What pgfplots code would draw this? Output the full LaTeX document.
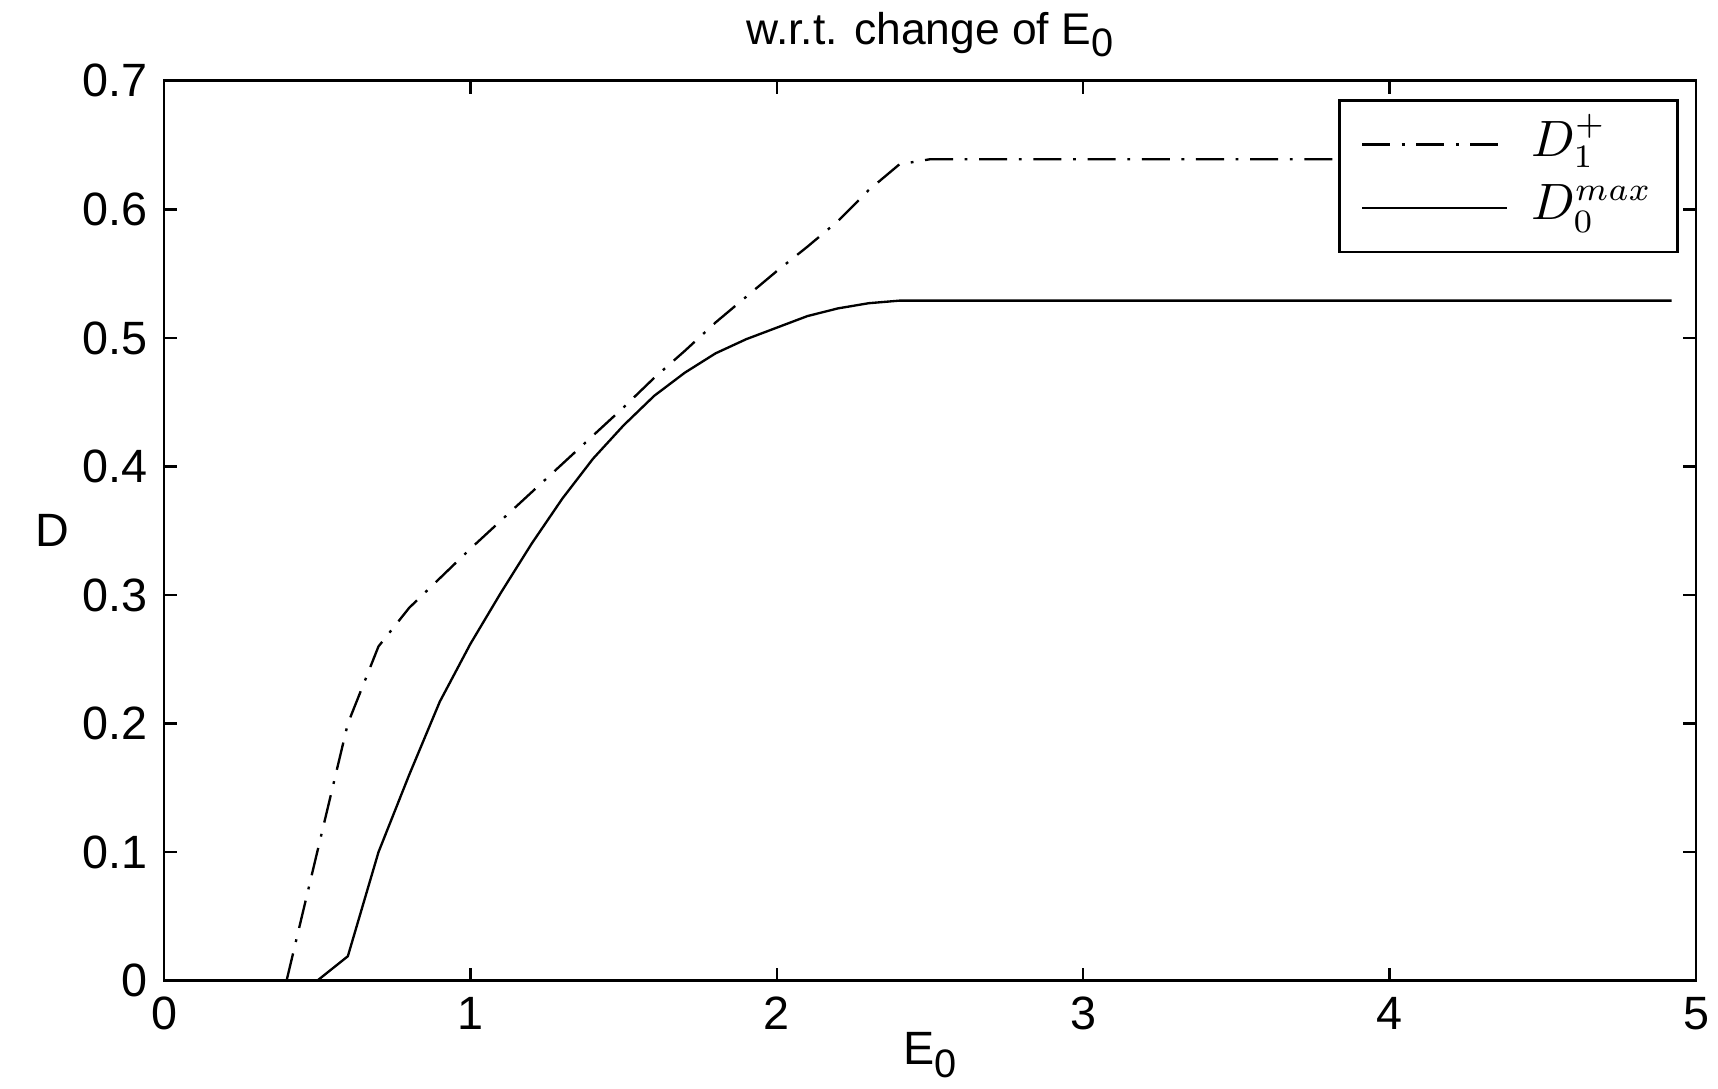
\documentclass[border=0pt]{standalone}
\usepackage{pgfplots}
\usepackage{fontspec}
\setmainfont{Liberation Sans}
\pgfplotsset{compat=1.18}
\newcommand{\sub}[1]{\raisebox{-0.55ex}{\fontsize{8.5}{9}\selectfont #1}}

\begin{document}
\begin{tikzpicture}
\fontsize{10}{12}\selectfont
\begin{axis}[
  scale only axis,
  width=327.9pt, height=192.6pt,
  xmin=0, xmax=5, ymin=0, ymax=0.7,
  xtick={0,1,2,3,4,5},
  ytick={0,0.1,0.2,0.3,0.4,0.5,0.6,0.7},
  yticklabel style={/pgf/number format/fixed,/pgf/number format/precision=1},
  /pgf/number format/assume math mode=true,
  tick align=inside,
  major tick length=2.8pt,
  axis line style={line width=0.6pt},
  tick style={line width=0.5pt,black},
  title={w.r.t. change of E\sub{0}},
  title style={font=\fontsize{9.5}{11}\selectfont,yshift=-4.5pt},
  xlabel={E\sub{0}},
  xlabel style={yshift=6.5pt},
  ylabel={D},
  ylabel style={rotate=-90,xshift=4pt},
  legend cell align=left,
  legend style={at={(0.989,0.98)},anchor=north east,draw=black,line width=0.6pt,
    font=\fontsize{10.5}{12}\selectfont,inner xsep=4.5pt,inner ysep=3.5pt,row sep=1.5pt,
    nodes={inner sep=1pt,text height=7.5pt,text depth=2.5pt},
    /tikz/every odd column/.append style={column sep=4pt}},
  legend image code/.code={\draw[#1] (0pt,0pt) -- (31pt,0pt);},
]
\addplot[black,line width=0.5pt,dash pattern=on 6pt off 2.5pt on 0.6pt off 2.5pt] coordinates {
  (0.4,0) (0.5,0.10) (0.6,0.20) (0.7,0.26) (0.8,0.29) (0.9,0.313)
  (1.0,0.336) (1.1,0.358) (1.2,0.380) (1.3,0.402) (1.4,0.424) (1.5,0.446)
  (1.6,0.469) (1.7,0.490) (1.8,0.512) (1.9,0.532) (2.0,0.552) (2.1,0.571)
  (2.2,0.591) (2.3,0.615) (2.4,0.635) (2.5,0.639) (4.92,0.639)
};
\addplot[black,line width=0.5pt] coordinates {
  (0.5,0) (0.6,0.019) (0.7,0.10) (0.8,0.16) (0.9,0.217) (1.0,0.262)
  (1.1,0.302) (1.2,0.340) (1.3,0.375) (1.4,0.406) (1.5,0.432) (1.6,0.455)
  (1.7,0.473) (1.8,0.488) (1.9,0.499) (2.0,0.508) (2.1,0.517) (2.2,0.523)
  (2.3,0.527) (2.4,0.529) (4.92,0.529)
};
\legend{$D_1^{+}$\hspace{3pt},$D_0^{max}$\hspace{3pt}}
\end{axis}
\pgfresetboundingbox
\path ([xshift=-35.1pt,yshift=-23.1pt]current axis.south west)
  rectangle ([xshift=4.7pt,yshift=17.3pt]current axis.north east);
\end{tikzpicture}
\end{document}
